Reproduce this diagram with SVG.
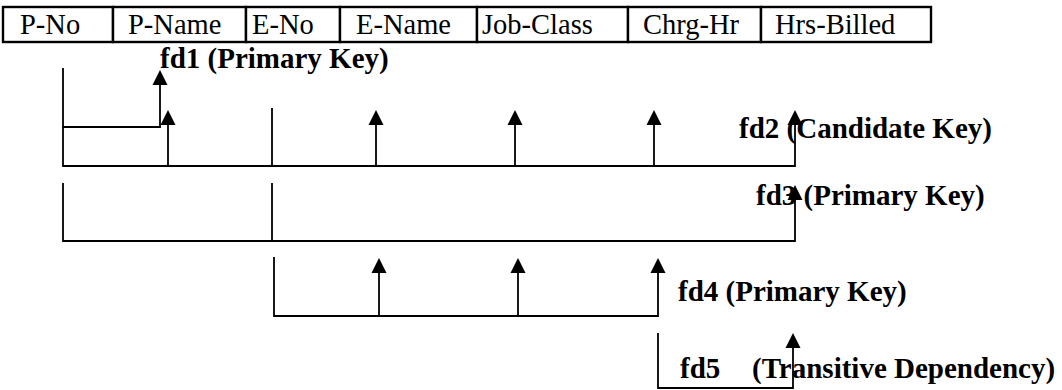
<svg xmlns="http://www.w3.org/2000/svg" width="1062" height="390" viewBox="0 0 1062 390">
  <style>
    .cell { fill: #fff; stroke: #000; stroke-width: 2.4; }
    .attr { font-family: "Liberation Serif", "Times New Roman", serif; font-size: 28.5px; fill: #000; }
    .fd { font-family: "Liberation Serif", "Times New Roman", serif; font-size: 29px; font-weight: bold; fill: #000; }
    .ln { fill: none; stroke: #000; stroke-width: 1.8; }
    .arr { marker-end: url(#ah); }
  </style>
  <defs>
    <marker id="ah" markerUnits="userSpaceOnUse" markerWidth="16" markerHeight="16" viewBox="0 -8 16 16" refX="1" refY="0" orient="auto">
      <path d="M0,-7.5 L15,0 L0,7.5 z" fill="#000"/>
    </marker>
  </defs>
  <rect width="1062" height="390" fill="#fff"/>

  <!-- relation header: one cell per attribute -->
  <g id="p-no"><rect class="cell" x="3" y="7" width="110" height="35"/><text class="attr" x="20" y="34">P-No</text></g>
  <g id="p-name"><rect class="cell" x="113" y="7" width="133" height="35"/><text class="attr" x="128" y="34">P-Name</text></g>
  <g id="e-no"><rect class="cell" x="246" y="7" width="94" height="35"/><text class="attr" x="252" y="34">E-No</text></g>
  <g id="e-name"><rect class="cell" x="340" y="7" width="137" height="35"/><text class="attr" x="356" y="34">E-Name</text></g>
  <g id="job-class"><rect class="cell" x="477" y="7" width="151" height="35"/><text class="attr" x="482" y="34">Job-Class</text></g>
  <g id="chrg-hr"><rect class="cell" x="628" y="7" width="133" height="35"/><text class="attr" x="643" y="34">Chrg-Hr</text></g>
  <g id="hrs-billed"><rect class="cell" x="761" y="7" width="170" height="35"/><text class="attr" x="775" y="34">Hrs-Billed</text></g>

  <!-- dependency labels -->
  <g id="labels">
    <text class="fd" x="160" y="68">fd1 (Primary Key)</text>
    <text class="fd" x="739" y="138">fd2 (Candidate Key)</text>
    <text class="fd" x="756" y="205">fd3 (Primary Key)</text>
    <text class="fd" x="678" y="301">fd4 (Primary Key)</text>
    <text class="fd" x="680" y="378">fd5<tspan x="752">(Transitive Dependency)</tspan></text>
  </g>

  <!-- functional dependency connectors -->
  <g id="connectors">
    <!-- fd1: P-No -> P-Name -->
    <path class="ln arr" d="M63,68 V127 H160 V84"/>
    <!-- fd2: P-No + E-No -> remaining attributes -->
    <path class="ln arr" d="M63,127 V166 H795 V124"/>
    <path class="ln arr" d="M168,166 V124"/>
    <path class="ln" d="M272,108 V166"/>
    <path class="ln arr" d="M376,166 V124"/>
    <path class="ln arr" d="M515,166 V124"/>
    <path class="ln arr" d="M654,166 V124"/>
    <!-- fd3: P-No + E-No -> Hrs-Billed -->
    <path class="ln arr" d="M63,183 V241 H795 V199"/>
    <path class="ln" d="M272,183 V241"/>
    <!-- fd4: E-No -> E-Name, Job-Class, Chrg-Hr -->
    <path class="ln arr" d="M274,257 V316 H658 V272"/>
    <path class="ln arr" d="M379,316 V272"/>
    <path class="ln arr" d="M518,316 V272"/>
    <!-- fd5: Job-Class -> Chrg-Hr -->
    <path class="ln arr" d="M658,333 V388 H793 V347"/>
  </g>
</svg>
